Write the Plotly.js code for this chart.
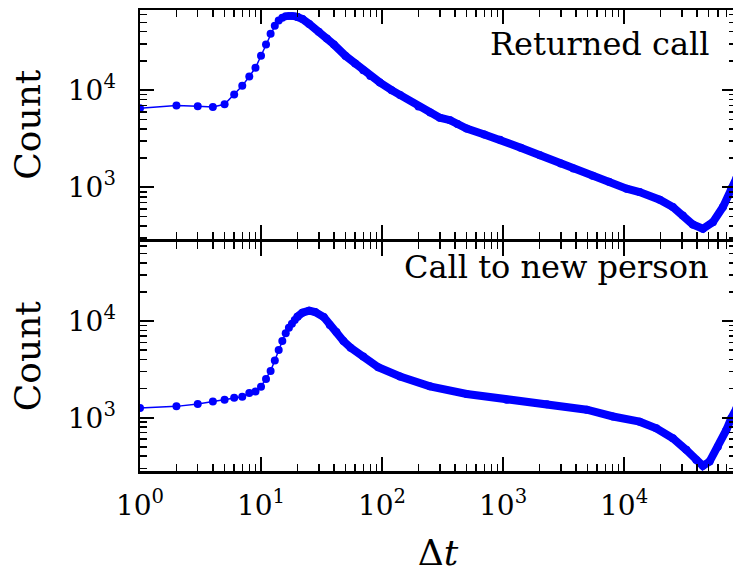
<!DOCTYPE html>
<html>
<head>
<meta charset="utf-8">
<script src="https://cdn.plot.ly/plotly-3.0.1.min.js"></script>
<style>
html, body { margin: 0; padding: 0; overflow: hidden; background: #fff; }
#chart { width: 745px; height: 573px; }
</style>
</head>
<body>
<div id="chart"></div>
<script>
// Δt values (shared x) and counts for each panel
const topX = [1,2,3,4,5,6,7,8,9,10,11,12,13,14,15,16,17,18,19,20,22,25,30,35,40,50,60,70,80,96,120,141,200,250,300,365,420,500,700,944,1400,2020,3000,3810,5500,7500,10500,13430,19700,25300,30600,37000,44800,54200,65600,76900,85000];
const topY = [6500,6950,6840,6730,7170,9030,11080,13840,17000,22600,29600,38000,46000,52000,55500,57500,58000,58000,57500,56500,54000,48000,40000,34000,29500,22500,18800,16000,14000,12000,10000,8900,6800,5900,5220,4910,4500,4030,3500,3100,2560,2140,1760,1560,1315,1140,970,895,747,627,514,415,375,439,627,970,1250];

const botX = [1,2,3,4,5,6,7,8,9,10,11,12,13,14,15,16,17,18,19,20,22,25,28,33,37,42,48,55,70,93,141,249,501,1070,2300,4920,8100,13430,18460,25300,32700,39500,44800,50900,59600,70000,76900,85000];
const botY = [1260,1310,1390,1470,1530,1610,1650,1800,1870,2090,2510,3050,3900,5020,6220,7460,8530,9380,10240,11080,12200,12790,12400,11000,9100,7700,6200,5300,4290,3330,2670,2110,1760,1530,1380,1210,1030,910,777,613,465,366,318,352,502,747,986,1250];

const panelLabels = ['Returned call', 'Call to new person'];
const xTickVals = [1, 10, 100, 1000, 10000];
const xTickText = ['10<sup>0</sup>', '10<sup>1</sup>', '10<sup>2</sup>', '10<sup>3</sup>', '10<sup>4</sup>'];
const yTickVals = [100, 1000, 10000];
const yTickText = ['10<sup>2</sup>', '10<sup>3</sup>', '10<sup>4</sup>'];
const yTitle = 'Count';
const xTitle = 'Δ<i>t</i>';

const BLUE = '#0000ff';
const SERIF = 'DejaVu Serif';
const SPLIT = 20; // sparse points drawn as separate markers, dense tail as a band

function traces(xs, ys, xa, ya) {
  const i = xs.indexOf(SPLIT);
  return [
    { x: xs.slice(0, i + 1), y: ys.slice(0, i + 1), xaxis: xa, yaxis: ya, type: 'scatter',
      mode: 'lines+markers', line: { color: BLUE, width: 1.5 },
      marker: { color: BLUE, size: 8 }, showlegend: false, hoverinfo: 'x+y' },
    { x: xs.slice(i), y: ys.slice(i), xaxis: xa, yaxis: ya, type: 'scatter',
      mode: 'lines+markers', line: { color: BLUE, width: 8 },
      marker: { color: BLUE, size: 8 }, showlegend: false, hoverinfo: 'x+y' }
  ];
}

const data = [].concat(traces(topX, topY, 'x2', 'y2'), traces(botX, botY, 'x', 'y'));

const tickFont = { family: SERIF, size: 28, color: '#000' };
const minorTicks = { ticks: 'inside', ticklen: 7, tickwidth: 1.5, tickcolor: '#000', dtick: 'D1', showgrid: false };

function xAxis(anchor, showLabels, title) {
  const a = {
    type: 'log', range: [0, 4.925], anchor: anchor,
    showline: true, linewidth: 2.5, linecolor: '#000', mirror: 'ticks',
    ticks: 'inside', ticklen: 14, tickwidth: 2, tickcolor: '#000',
    tickmode: 'array', tickvals: xTickVals, ticktext: xTickText,
    showticklabels: showLabels, tickfont: tickFont, ticklabelstandoff: 8,
    showgrid: false, zeroline: false, minor: minorTicks
  };
  if (title) a.title = { text: title, font: { family: SERIF, size: 36, color: '#000' }, standoff: 22 };
  return a;
}
function yAxis(domain, range, anchor) {
  return {
    type: 'log', range: range, domain: domain, anchor: anchor,
    showline: true, linewidth: 2.5, linecolor: '#000', mirror: 'ticks',
    ticks: 'inside', ticklen: 14, tickwidth: 2, tickcolor: '#000',
    tickmode: 'array', tickvals: yTickVals, ticktext: yTickText,
    tickfont: tickFont, ticklabelstandoff: 16,
    showgrid: false, zeroline: false, minor: minorTicks,
    title: { text: yTitle, font: { family: SERIF, size: 36, color: '#000' }, standoff: 16 }
  };
}

const layout = {
  width: 745, height: 573,
  margin: { l: 140, r: 9, t: 10, b: 102 },
  paper_bgcolor: '#fff', plot_bgcolor: '#fff',
  showlegend: false,
  xaxis: xAxis('y', true, xTitle),
  xaxis2: Object.assign(xAxis('y2', false, null), { matches: 'x' }),
  yaxis: yAxis([0, 0.4978], [2.449, 4.822], 'x'),
  yaxis2: yAxis([0.5022, 1], [2.464, 4.825], 'x2'),
  annotations: [
    { text: panelLabels[0], xref: 'paper', yref: 'paper', x: 0.958, y: 0.926,
      xanchor: 'right', yanchor: 'middle', showarrow: false,
      font: { family: SERIF, size: 32, color: '#000' } },
    { text: panelLabels[1], xref: 'paper', yref: 'paper', x: 0.958, y: 0.442,
      xanchor: 'right', yanchor: 'middle', showarrow: false,
      font: { family: SERIF, size: 32, color: '#000' } }
  ]
};

Plotly.newPlot('chart', data, layout, { staticPlot: true, displayModeBar: false });
</script>
</body>
</html>
